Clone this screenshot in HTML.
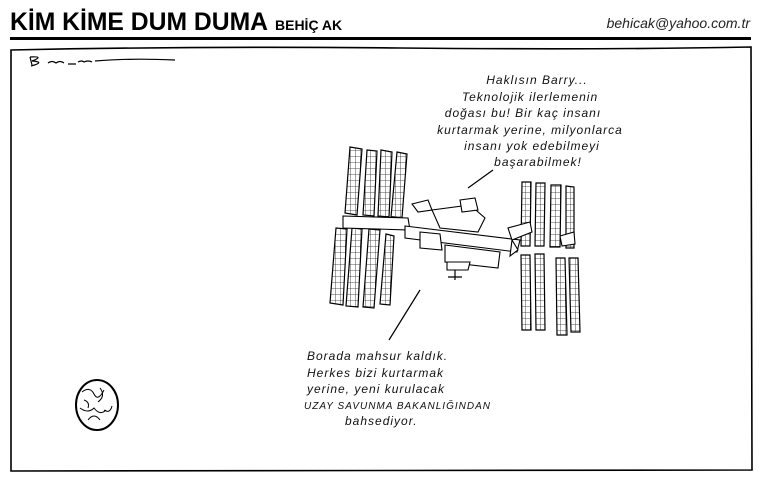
<!DOCTYPE html>
<html><head><meta charset="utf-8"><style>
html,body{margin:0;padding:0;background:#fff;width:760px;height:480px;overflow:hidden}
</style></head><body>
<svg width="760" height="480" viewBox="0 0 760 480" xmlns="http://www.w3.org/2000/svg">
<defs>
<pattern id="g" width="5" height="6" patternUnits="userSpaceOnUse">
<rect width="5" height="6" fill="#fff"/><path d="M0 0H5M0 0V6" stroke="#222" stroke-width="0.8"/>
</pattern>
</defs>
<text x="10" y="30" font-family="Liberation Sans,sans-serif" font-weight="bold" font-size="25" fill="#000" textLength="258" lengthAdjust="spacingAndGlyphs">KİM KİME DUM DUMA</text>
<text x="275" y="30" font-family="Liberation Sans,sans-serif" font-weight="bold" font-size="14" fill="#000">BEHİÇ AK</text>
<text x="750" y="28" text-anchor="end" font-family="Liberation Sans,sans-serif" font-style="italic" font-size="14" fill="#222">behicak@yahoo.com.tr</text>
<rect x="10" y="37" width="741" height="3" fill="#000"/>
<path d="M11 50 Q200 46 400 48 T751 47 L752 470 Q400 472 11 471 Z" fill="none" stroke="#000" stroke-width="1.6"/>
<path d="M30 57 L32 65 M30 57 Q45 56 32 61 Q46 62 31 66 M48 63 q4 -3 8 0 q4 -3 8 0 M68 64 h8 M78 62 q4 -2 6 0 q4 -2 8 0 M95 61 Q130 58 175 60" stroke="#000" fill="none" stroke-width="1.2"/>
<g font-family="Liberation Sans,sans-serif" font-style="italic" font-size="12" fill="#111" text-anchor="middle" letter-spacing="1">
<text x="537" y="84">Haklısın Barry...</text>
<text x="530" y="101">Teknolojik ilerlemenin</text>
<text x="523" y="117">doğası bu! Bir kaç insanı</text>
<text x="530" y="134">kurtarmak yerine, milyonlarca</text>
<text x="532" y="150">insanı yok edebilmeyi</text>
<text x="538" y="166">başarabilmek!</text>
</g>
<g font-family="Liberation Sans,sans-serif" font-style="italic" font-size="12" fill="#111" letter-spacing="1">
<text x="307" y="360">Borada mahsur kaldık.</text>
<text x="307" y="377">Herkes bizi kurtarmak</text>
<text x="307" y="393">yerine, yeni kurulacak</text>
<text x="304" y="409" font-size="10">UZAY SAVUNMA BAKANLIĞINDAN</text>
<text x="345" y="425">bahsediyor.</text>
</g>
<path d="M468 188 L493 170 M389 340 L420 290" stroke="#000" stroke-width="1.2"/>
<g stroke="#000" stroke-width="1.2" fill="url(#g)">
<path d="M350 147 L362 149 L357 215 L345 213Z"/>
<path d="M367 150 L377 151 L374 216 L363 215Z"/>
<path d="M381 150 L392 152 L389 217 L378 216Z"/>
<path d="M397 152 L407 154 L402 218 L391 217Z"/>
<path d="M336 228 L347 229 L343 305 L330 303Z"/>
<path d="M352 228 L362 229 L358 307 L346 306Z"/>
<path d="M369 229 L380 230 L374 308 L363 307Z"/>
<path d="M386 234 L394 236 L390 305 L380 304Z"/>
<path d="M522 182 L531 182 L530 246 L521 246Z"/>
<path d="M536 183 L545 183 L544 246 L535 246Z"/>
<path d="M551 185 L561 185 L560 247 L550 247Z"/>
<path d="M566 186 L574 187 L574 248 L566 248Z"/>
<path d="M521 255 L530 255 L531 330 L522 330Z"/>
<path d="M535 254 L544 254 L545 330 L536 330Z"/>
<path d="M556 258 L565 258 L567 335 L557 335Z"/>
<path d="M569 258 L578 258 L580 332 L571 332Z"/>
</g>
<g stroke="#000" stroke-width="1.1" fill="#fff">
<path d="M343 216 L408 218 L410 230 L343 228Z"/>
<path d="M405 226 L520 240 L517 252 L405 238Z"/>
<path d="M420 232 L440 234 L442 250 L420 248Z"/>
<path d="M445 245 L500 252 L498 268 L445 262Z"/>
<path d="M432 210 L470 205 L485 218 L478 232 L440 228Z"/>
<path d="M460 200 L475 198 L478 210 L462 212Z"/>
<path d="M412 204 L428 200 L432 210 L418 212Z"/>
<path d="M447 262 L470 262 L468 270 L447 270Z"/>
<path d="M508 228 L530 222 L532 232 L512 240Z"/>
<path d="M560 236 L574 232 L575 244 L562 246Z"/>
<path d="M512 240 L518 250 L510 256Z"/>
</g>
<path d="M455 270 V280 M448 277 h14" stroke="#000" stroke-width="1.2"/>
<ellipse cx="97" cy="405" rx="21" ry="25" fill="#fff" stroke="#000" stroke-width="2"/>
<path d="M82 392 q8 -6 12 2 t10 -4 M80 408 q8 6 14 0 q6 8 12 2 M88 420 q6 -8 12 0 M100 388 q6 8 -2 14 M84 400 q6 2 4 8 M104 410 q6 4 8 -4" stroke="#000" fill="none" stroke-width="1"/>
</svg>
</body></html>
